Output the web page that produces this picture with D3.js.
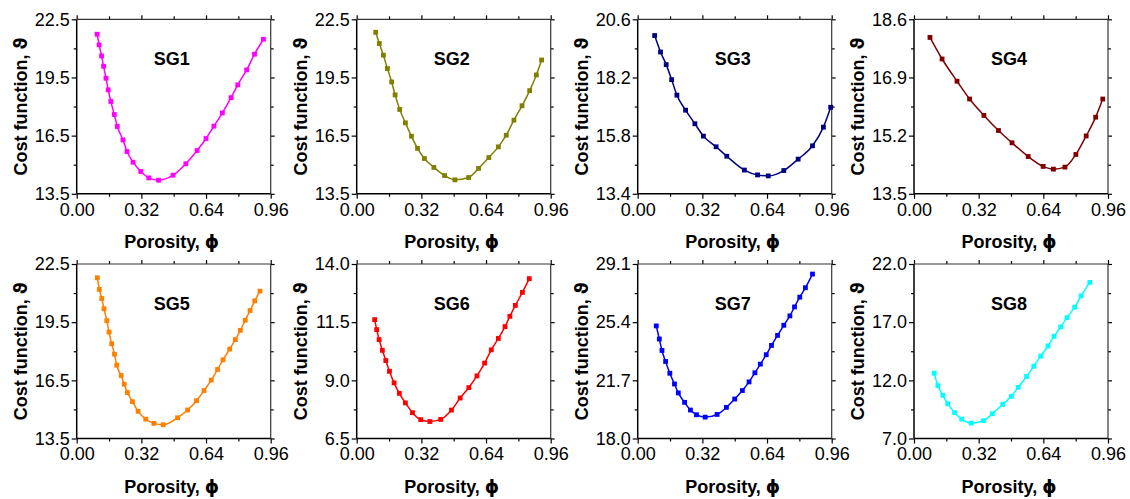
<!DOCTYPE html>
<html>
<head>
<meta charset="utf-8">
<script src="https://cdn.jsdelivr.net/npm/d3@7"></script>
<style>
  body { margin: 0; background: #fff; }
  svg { display: block; font-family: "Liberation Sans", Arial, sans-serif; }
  .tick text { font-size: 18px; fill: #000; }
  .domain { display: none; }
  .axis-title { font-size: 18px; font-weight: bold; }
  .panel-label { font-size: 18px; font-weight: bold; }
  .sym { font-family: "DejaVu Sans", sans-serif; font-style: normal; }
</style>
</head>
<body>
<svg id="chart" width="1130" height="499"></svg>
<script>
// --- data ---
const names = ["SG1", "SG2", "SG3", "SG4", "SG5", "SG6", "SG7", "SG8"];
const colors = ["#ff00ff", "#808000", "#000080", "#800000", "#ff8000", "#ff0000", "#0000ff", "#00ffff"];
const yDomains = [[13.5, 22.5], [13.5, 22.5], [13.4, 20.6], [13.5, 18.6], [13.5, 22.5], [6.5, 14.0], [18.0, 29.1], [7.0, 22.0]];
const xTicks = [0, 0.32, 0.64, 0.96];
const xMinorTicks = [0.16, 0.48, 0.80];

const sg1Phi = [0.101, 0.111, 0.123, 0.133, 0.145, 0.156, 0.169, 0.186, 0.201, 0.229, 0.249, 0.279, 0.317, 0.357, 0.405, 0.477, 0.540, 0.596, 0.640, 0.679, 0.721, 0.764, 0.797, 0.841, 0.880, 0.924];
const sg1Cost = [21.73, 21.18, 20.61, 20.08, 19.46, 18.86, 18.26, 17.59, 16.97, 16.28, 15.68, 15.13, 14.65, 14.32, 14.20, 14.46, 15.05, 15.73, 16.35, 16.99, 17.67, 18.46, 19.12, 19.89, 20.70, 21.47];

const sg2Phi = [0.094, 0.112, 0.132, 0.152, 0.173, 0.190, 0.213, 0.241, 0.271, 0.301, 0.335, 0.382, 0.435, 0.486, 0.554, 0.603, 0.654, 0.701, 0.740, 0.778, 0.818, 0.856, 0.889, 0.915];
const sg2Cost = [21.83, 21.25, 20.65, 19.96, 19.27, 18.60, 17.85, 17.16, 16.47, 15.84, 15.32, 14.86, 14.44, 14.22, 14.34, 14.81, 15.37, 15.92, 16.52, 17.30, 18.04, 18.82, 19.63, 20.40];

const sg3Phi = [0.084, 0.113, 0.141, 0.168, 0.194, 0.237, 0.283, 0.325, 0.388, 0.441, 0.528, 0.593, 0.646, 0.723, 0.794, 0.865, 0.919, 0.955];
const sg3Cost = [19.93, 19.25, 18.73, 18.11, 17.47, 16.85, 16.29, 15.78, 15.34, 14.95, 14.38, 14.18, 14.14, 14.36, 14.83, 15.38, 16.15, 16.97];

const sg4Phi = [0.079, 0.139, 0.213, 0.275, 0.346, 0.418, 0.485, 0.565, 0.639, 0.690, 0.747, 0.801, 0.852, 0.899, 0.934];
const sg4Cost = [18.07, 17.44, 16.79, 16.27, 15.79, 15.35, 14.99, 14.59, 14.30, 14.22, 14.28, 14.65, 15.19, 15.74, 16.27];

const sg5Phi = [0.102, 0.112, 0.124, 0.135, 0.149, 0.160, 0.173, 0.187, 0.198, 0.220, 0.235, 0.251, 0.276, 0.304, 0.342, 0.382, 0.428, 0.499, 0.549, 0.593, 0.630, 0.666, 0.697, 0.724, 0.757, 0.785, 0.810, 0.834, 0.858, 0.881, 0.907];
const sg5Cost = [21.79, 21.19, 20.72, 20.19, 19.58, 18.99, 18.39, 17.85, 17.28, 16.75, 16.30, 15.87, 15.40, 14.90, 14.50, 14.28, 14.21, 14.57, 14.97, 15.45, 15.97, 16.51, 17.06, 17.56, 18.11, 18.60, 19.08, 19.60, 20.10, 20.60, 21.10];

const sg6Phi = [0.089, 0.099, 0.111, 0.127, 0.144, 0.162, 0.185, 0.211, 0.241, 0.276, 0.317, 0.362, 0.416, 0.469, 0.512, 0.555, 0.595, 0.633, 0.666, 0.701, 0.734, 0.758, 0.785, 0.820, 0.854];
const sg6Cost = [11.61, 11.18, 10.75, 10.29, 9.85, 9.39, 8.89, 8.44, 8.03, 7.61, 7.31, 7.23, 7.32, 7.72, 8.24, 8.69, 9.19, 9.74, 10.31, 10.80, 11.31, 11.75, 12.22, 12.78, 13.37];

const sg7Phi = [0.092, 0.107, 0.120, 0.138, 0.159, 0.182, 0.201, 0.232, 0.261, 0.291, 0.334, 0.393, 0.439, 0.480, 0.518, 0.551, 0.580, 0.607, 0.636, 0.662, 0.692, 0.723, 0.753, 0.776, 0.802, 0.830, 0.865];
const sg7Cost = [25.16, 24.33, 23.60, 22.90, 22.15, 21.47, 20.90, 20.30, 19.81, 19.51, 19.36, 19.53, 19.98, 20.51, 21.05, 21.60, 22.18, 22.73, 23.33, 23.92, 24.56, 25.20, 25.80, 26.37, 26.99, 27.59, 28.46];

const sg8Phi = [0.100, 0.118, 0.143, 0.167, 0.201, 0.236, 0.283, 0.344, 0.388, 0.439, 0.482, 0.516, 0.557, 0.593, 0.627, 0.663, 0.693, 0.726, 0.757, 0.795, 0.827, 0.870];
const sg8Cost = [12.61, 11.55, 10.71, 9.99, 9.22, 8.67, 8.32, 8.53, 9.13, 9.94, 10.63, 11.40, 12.33, 13.22, 14.08, 14.95, 15.78, 16.59, 17.39, 18.29, 19.26, 20.42];

const phiSeries = [sg1Phi, sg2Phi, sg3Phi, sg4Phi, sg5Phi, sg6Phi, sg7Phi, sg8Phi];
const costSeries = [sg1Cost, sg2Cost, sg3Cost, sg4Cost, sg5Cost, sg6Cost, sg7Cost, sg8Cost];

// --- layout ---
const svg = d3.select("#chart");
const colLeft = [76.7, 356.7, 637.7, 914];
const rowTop = [19.3, 264];
const pw = 194, ph = 174.5;

names.forEach((name, i) => {
  const left = colLeft[i % 4], top = rowTop[Math.floor(i / 4)];
  const g = svg.append("g").attr("transform", `translate(${left},${top})`);

  const x = d3.scaleLinear().domain([0, 0.96]).range([0, pw]);
  const [y0, y1] = yDomains[i];
  const step = (y1 - y0) / 3;
  const yTicks = d3.range(4).map(k => y0 + k * step);
  const yMinor = d3.range(3).map(k => y0 + (k + 0.5) * step);
  const y = d3.scaleLinear().domain([y0, y1]).range([ph, 0]);

  // major ticks with labels
  g.append("g").attr("transform", `translate(0,${ph})`)
    .call(d3.axisBottom(x).tickValues(xTicks).tickFormat(d3.format(".2f")).tickSize(5).tickPadding(4));
  g.append("g")
    .call(d3.axisLeft(y).tickValues(yTicks).tickFormat(d3.format(".1f")).tickSize(5).tickPadding(2));
  // mirrored ticks, no labels
  g.append("g").call(d3.axisTop(x).tickValues(xTicks).tickFormat("").tickSize(4));
  g.append("g").attr("transform", `translate(${pw},0)`)
    .call(d3.axisRight(y).tickValues(yTicks).tickFormat("").tickSize(4));
  // minor ticks
  g.append("g").attr("transform", `translate(0,${ph})`).call(d3.axisBottom(x).tickValues(xMinorTicks).tickFormat("").tickSize(3));
  g.append("g").call(d3.axisTop(x).tickValues(xMinorTicks).tickFormat("").tickSize(3));
  g.append("g").call(d3.axisLeft(y).tickValues(yMinor).tickFormat("").tickSize(3));
  g.append("g").attr("transform", `translate(${pw},0)`).call(d3.axisRight(y).tickValues(yMinor).tickFormat("").tickSize(3));

  g.selectAll(".tick line").attr("stroke", "#000").attr("stroke-width", 1.2);

  // frame
  g.append("line").attr("x1", 0).attr("x2", 0).attr("y1", 0).attr("y2", ph).attr("stroke", "#000").attr("stroke-width", 1.5);
  g.append("line").attr("x1", 0).attr("x2", pw).attr("y1", ph).attr("y2", ph).attr("stroke", "#000").attr("stroke-width", 1.5);
  g.append("line").attr("x1", 0).attr("x2", pw).attr("y1", 0).attr("y2", 0).attr("stroke", "#333").attr("stroke-width", 1.2);
  g.append("line").attr("x1", pw).attr("x2", pw).attr("y1", 0).attr("y2", ph).attr("stroke", "#333").attr("stroke-width", 1.2);

  // series
  const pts = phiSeries[i].map((p, k) => [p, costSeries[i][k]]);
  const line = d3.line().x(d => x(d[0])).y(d => y(d[1])).curve(d3.curveMonotoneX);
  g.append("path").datum(pts).attr("d", line)
    .attr("fill", "none").attr("stroke", colors[i]).attr("stroke-width", 1.5);
  g.selectAll("rect.pt").data(pts).join("rect").attr("class", "pt")
    .attr("x", d => x(d[0]) - 2.4).attr("y", d => y(d[1]) - 2.4)
    .attr("width", 4.8).attr("height", 4.8).attr("fill", colors[i]);

  // labels
  g.append("text").attr("class", "panel-label")
    .attr("x", 95).attr("y", 46).attr("text-anchor", "middle").text(name);
  const xt = g.append("text").attr("class", "axis-title")
    .attr("x", pw / 2 - 2).attr("y", ph + 54).attr("text-anchor", "middle");
  xt.append("tspan").text("Porosity, ");
  xt.append("tspan").attr("class", "sym").text("ϕ");
  const yt = g.append("text").attr("class", "axis-title")
    .attr("transform", `translate(-50,${ph / 2}) rotate(-90)`)
    .attr("text-anchor", "middle");
  yt.append("tspan").text("Cost function, ");
  yt.append("tspan").attr("class", "sym").text("ϑ");
});
</script>
</body>
</html>
